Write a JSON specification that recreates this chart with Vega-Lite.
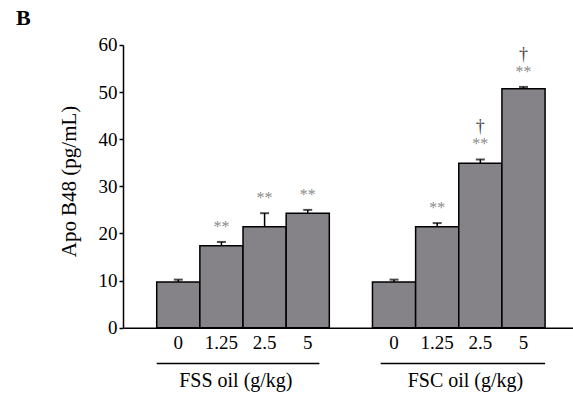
{
  "$schema": "https://vega.github.io/schema/vega-lite/v6.json",
  "width": 450,
  "height": 282.7,
  "autosize": {"type": "none"},
  "padding": {"left": 123, "top": 45, "right": 0, "bottom": 67},
  "background": "white",
  "config": {
    "font": "Liberation Serif",
    "view": {"stroke": null},
    "axis": {"grid": false, "labelColor": "black", "titleColor": "black", "labelFont": "Liberation Serif", "titleFont": "Liberation Serif"}
  },
  "title": {
    "text": "B",
    "anchor": "start",
    "frame": "group",
    "font": "Liberation Serif",
    "fontSize": 22,
    "fontWeight": "bold",
    "color": "black",
    "dx": -107,
    "offset": 6
  },
  "data": {
    "values": [
      {"slot": "FSS|0", "value": 9.7, "upper": 10.2, "sig": "", "dag": ""},
      {"slot": "FSS|1.25", "value": 17.4, "upper": 18.2, "sig": "**", "dag": ""},
      {"slot": "FSS|2.5", "value": 21.4, "upper": 24.3, "sig": "**", "dag": ""},
      {"slot": "FSS|5", "value": 24.3, "upper": 25.0, "sig": "**", "dag": ""},
      {"slot": "FSC|0", "value": 9.7, "upper": 10.2, "sig": "", "dag": ""},
      {"slot": "FSC|1.25", "value": 21.4, "upper": 22.2, "sig": "**", "dag": ""},
      {"slot": "FSC|2.5", "value": 34.9, "upper": 35.7, "sig": "**", "dag": "†"},
      {"slot": "FSC|5", "value": 50.7, "upper": 51.1, "sig": "**", "dag": "†"}
    ]
  },
  "layer": [
    {
      "mark": {"type": "bar", "fill": "#858387", "stroke": "black", "strokeWidth": 1.5},
      "encoding": {
        "x": {
          "field": "slot",
          "type": "nominal",
          "sort": null,
          "scale": {
            "domain": ["FSS|0", "FSS|1.25", "FSS|2.5", "FSS|5", "gap", "FSC|0", "FSC|1.25", "FSC|2.5", "FSC|5"],
            "paddingInner": 0,
            "paddingOuter": 0.714,
            "align": 0.547
          },
          "axis": {
            "title": null,
            "ticks": false,
            "labelAngle": 0,
            "labelExpr": "datum.value == 'gap' ? '' : split(datum.value, '|')[1]",
            "labelFontSize": 19,
            "labelPadding": 6,
            "domainColor": "black",
            "domainWidth": 1.5
          }
        },
        "y": {
          "field": "value",
          "type": "quantitative",
          "scale": {"domain": [0, 60], "nice": false, "zero": true},
          "axis": {
            "title": "Apo B48 (pg/mL)",
            "values": [0, 10, 20, 30, 40, 50, 60],
            "tickSize": 4,
            "tickWidth": 1.5,
            "tickColor": "black",
            "domainColor": "black",
            "domainWidth": 1.5,
            "labelFontSize": 19,
            "labelPadding": 2,
            "titleFontSize": 21,
            "titleFontWeight": "normal",
            "titlePadding": 19,
            "titleY": 136
          }
        }
      }
    },
    {
      "mark": {"type": "rule", "color": "black", "strokeWidth": 1.5},
      "encoding": {
        "x": {"field": "slot", "type": "nominal"},
        "y": {"field": "value", "type": "quantitative"},
        "y2": {"field": "upper"}
      }
    },
    {
      "mark": {"type": "tick", "color": "black", "size": 9, "thickness": 2},
      "encoding": {
        "x": {"field": "slot", "type": "nominal"},
        "y": {"field": "upper", "type": "quantitative"}
      }
    },
    {
      "mark": {"type": "text", "fontSize": 16, "color": "#8a8a8a", "dy": -15, "baseline": "middle"},
      "encoding": {
        "x": {"field": "slot", "type": "nominal"},
        "y": {"field": "upper", "type": "quantitative"},
        "text": {"field": "sig"}
      }
    },
    {
      "mark": {"type": "text", "fontSize": 18, "color": "#444444", "dy": -32, "baseline": "middle"},
      "encoding": {
        "x": {"field": "slot", "type": "nominal"},
        "y": {"field": "upper", "type": "quantitative"},
        "text": {"field": "dag"}
      }
    },
    {
      "data": {"values": [{"group": "FSS oil (g/kg)"}]},
      "mark": {"type": "rule", "color": "black", "strokeWidth": 1.5},
      "encoding": {
        "x": {"datum": "FSS|0", "type": "nominal", "bandPosition": 0},
        "x2": {"datum": "FSS|5", "bandPosition": 0.77},
        "y": {"datum": -7.6, "type": "quantitative"}
      }
    },
    {
      "data": {"values": [{"group": "FSC oil (g/kg)"}]},
      "mark": {"type": "rule", "color": "black", "strokeWidth": 1.5},
      "encoding": {
        "x": {"datum": "FSC|0", "type": "nominal", "bandPosition": 0.19},
        "x2": {"datum": "FSC|5", "bandPosition": 1},
        "y": {"datum": -7.6, "type": "quantitative"}
      }
    },
    {
      "data": {"values": [{"group": "FSS oil (g/kg)"}]},
      "mark": {"type": "text", "fontSize": 20, "color": "black", "baseline": "middle"},
      "encoding": {
        "x": {"datum": "FSS|1.25", "type": "nominal", "bandPosition": 0.834},
        "y": {"datum": -11.3, "type": "quantitative"},
        "text": {"field": "group"}
      }
    },
    {
      "data": {"values": [{"group": "FSC oil (g/kg)"}]},
      "mark": {"type": "text", "fontSize": 20, "color": "black", "baseline": "middle"},
      "encoding": {
        "x": {"datum": "FSC|2.5", "type": "nominal", "bandPosition": 0.155},
        "y": {"datum": -11.3, "type": "quantitative"},
        "text": {"field": "group"}
      }
    }
  ]
}
